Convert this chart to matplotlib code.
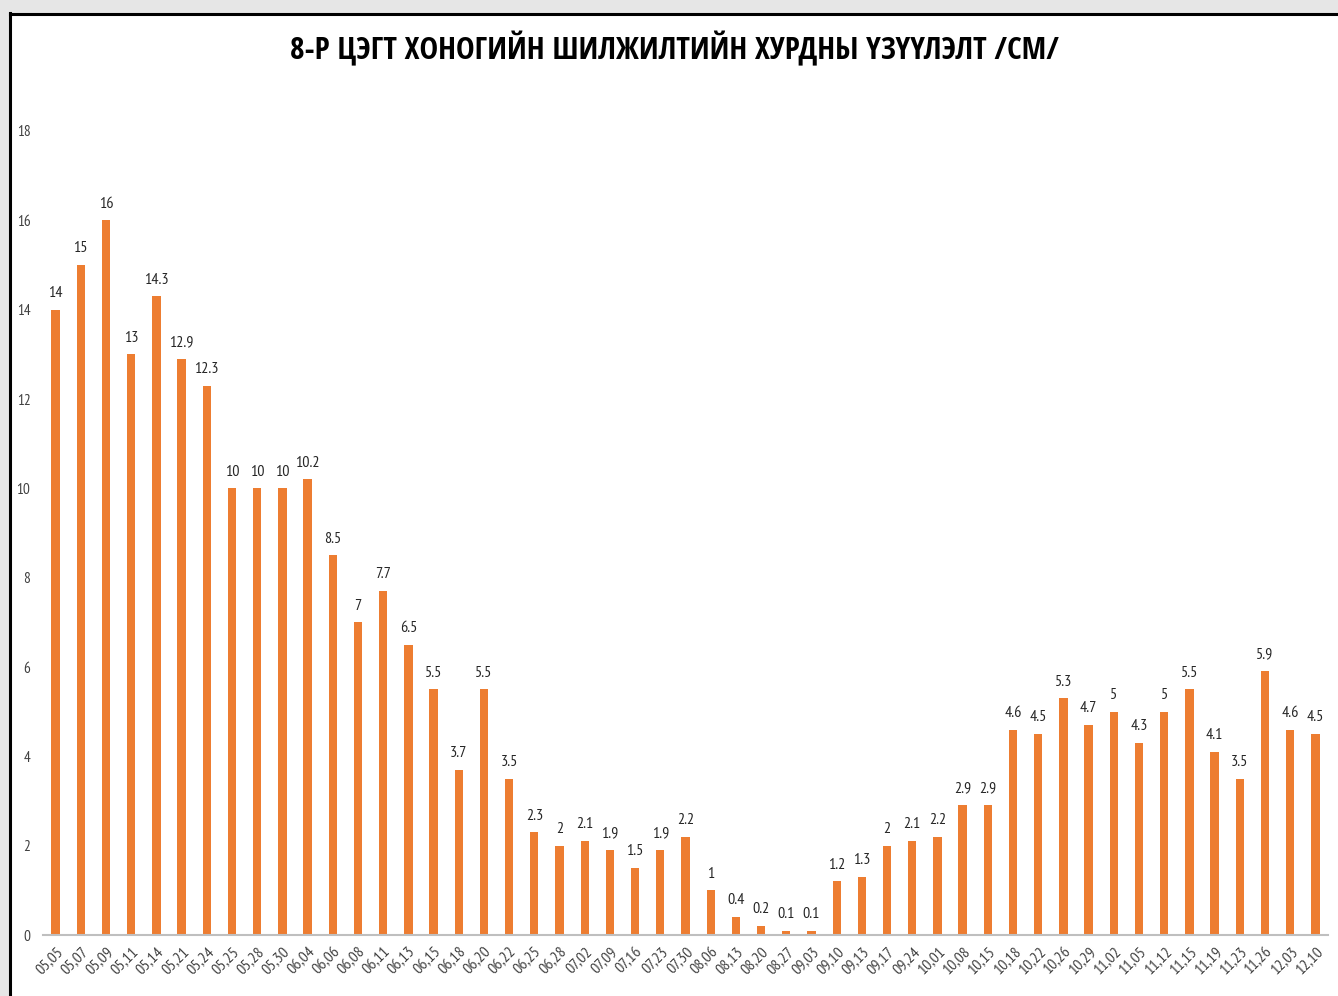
import matplotlib.pyplot as plt
from matplotlib.lines import Line2D
from matplotlib.patches import Rectangle
import numpy as np

# Data
dates = ["05,05", "05,07", "05,09", "05,11", "05,14", "05,21", "05,24", "05,25", "05,28", "05,30",
         "06,04", "06,06", "06,08", "06,11", "06,13", "06,15", "06,18", "06,20", "06,22", "06,25",
         "06,28", "07,02", "07,09", "07,16", "07,23", "07,30", "08,06", "08,13", "08,20", "08,27",
         "09,03", "09,10", "09,13", "09,17", "09,24", "10,01", "10,08", "10,15", "10,18", "10,22",
         "10,26", "10,29", "11,02", "11,05", "11,12", "11,15", "11,19", "11,23", "11,26", "12,03",
         "12,10"]
values = [14, 15, 16, 13, 14.3, 12.9, 12.3, 10, 10, 10,
          10.2, 8.5, 7, 7.7, 6.5, 5.5, 3.7, 5.5, 3.5, 2.3,
          2, 2.1, 1.9, 1.5, 1.9, 2.2, 1, 0.4, 0.2, 0.1,
          0.1, 1.2, 1.3, 2, 2.1, 2.2, 2.9, 2.9, 4.6, 4.5,
          5.3, 4.7, 5, 4.3, 5, 5.5, 4.1, 3.5, 5.9, 4.6,
          4.5]
y_ticks = [0, 2, 4, 6, 8, 10, 12, 14, 16, 18]
title = "8-Р ЦЭГТ ХОНОГИЙН ШИЛЖИЛТИЙН ХУРДНЫ ҮЗҮҮЛЭЛТ /СМ/"

TITLE_FONT = ['Open Sans Condensed', 'DejaVu Sans']
LABEL_FONT = ['PT Sans Narrow', 'DejaVu Sans']
plt.rcParams['font.family'] = LABEL_FONT

W, H = 1338, 996
fig = plt.figure(figsize=(W / 100, H / 100), dpi=100)

# frame like the screenshot: light grey strip then black edge
fig.patches.append(Rectangle((0, 1 - 12 / H), 1, 12 / H, transform=fig.transFigure,
                             color='#e6e6e6', zorder=0))
fig.patches.append(Rectangle((0, 0), 9 / W, 1, transform=fig.transFigure,
                             color='#e6e6e6', zorder=0))
fig.lines.append(Line2D([10 / W, 10 / W], [0, 1 - 13 / H], transform=fig.transFigure,
                        color='black', lw=2.2))
fig.lines.append(Line2D([10 / W, 1], [1 - 14 / H, 1 - 14 / H], transform=fig.transFigure,
                        color='black', lw=2.2))

ax = fig.add_axes([43 / W, 1 - 935 / H, (1328 - 43) / W, (935 - 131) / H])
x = np.arange(len(values))
ax.bar(x, values, width=0.33, color='#ED7D31', zorder=2)

ax.set_xlim(-0.5, len(values) - 0.5)
ax.set_ylim(0, 18)
ax.set_yticks(y_ticks)
ax.set_yticklabels([str(t) for t in y_ticks], fontsize=11, color='#404040')
ax.set_xticks(x)
ax.set_xticklabels(dates, rotation=45, ha='right', rotation_mode='anchor',
                   fontsize=11.5, color='#404040')
ax.tick_params(axis='both', length=0)
ax.tick_params(axis='x', pad=7)
ax.tick_params(axis='y', pad=9)

for s in ['top', 'right', 'left']:
    ax.spines[s].set_visible(False)
ax.spines['bottom'].set_color('#bfbfbf')
ax.spines['bottom'].set_linewidth(1.5)

for xi, v in zip(x, values):
    ax.annotate(f"{v:g}", (xi, v), xytext=(0, 7), textcoords='offset points',
                ha='center', va='bottom', fontsize=11.5, color='#262626')

fig.text(675 / W, 1 - 49 / H, title, ha='center', va='center',
         fontsize=22.6, fontweight='bold', color='black', family=TITLE_FONT)

fig.savefig('out.png', dpi=100, facecolor='white')
